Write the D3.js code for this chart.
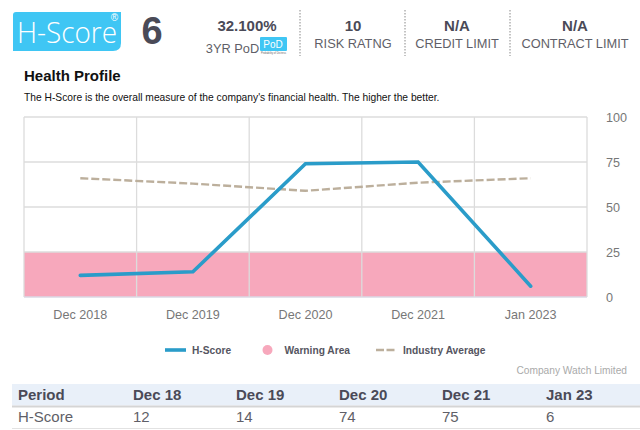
<!DOCTYPE html>
<html>
<head>
<meta charset="utf-8">
<script src="https://cdn.jsdelivr.net/npm/d3@7/dist/d3.min.js"></script>
<style>
html, body { margin: 0; padding: 0; background: #fff; }
text { font-family: "Liberation Sans", Arial, sans-serif; }
</style>
</head>
<body>
<div id="chart"></div>
<script>
// chart values
const periods = ["Dec 2018", "Dec 2019", "Dec 2020", "Dec 2021", "Jan 2023"];
const hScore = [12, 14, 74, 75, 6];
const industryAvg = [66, 63, 59, 63.5, 66];
const warningLimit = 25;
const yTicks = [0, 25, 50, 75, 100];

// table under the chart
const tablePeriods = ["Dec 18", "Dec 19", "Dec 20", "Dec 21", "Jan 23"];
const tableX = [133, 236, 339, 442, 546];

// header
const headerStats = [
	{value: "32.100%", label: "3YR PoD", x: 247},
	{value: "10", label: "RISK RATNG", x: 353},
	{value: "N/A", label: "CREDIT LIMIT", x: 457},
	{value: "N/A", label: "CONTRACT LIMIT", x: 575}
];
const dividers = [300, 405, 510];

const svg = d3.select("#chart").append("svg")
	.attr("width", 640)
	.attr("height", 430)
	.style("display", "block");

// logo
const logo = svg.append("g");
logo.append("path")
	.attr("d", "M13 15 Q13 12 16 12 H121 V43 Q121 51 113 51 H13 Z")
	.attr("fill", "#3fc6f4");
logo.append("text").attr("x", 17).attr("y", 43)
	.style("font-family", "'Open Sans', sans-serif").attr("font-weight", 300)
	.attr("font-size", 30).attr("fill", "#fff")
	.attr("textLength", 100).attr("lengthAdjust", "spacingAndGlyphs")
	.text("H-Score");
logo.append("text").attr("x", 114.5).attr("y", 21)
	.attr("text-anchor", "middle").attr("font-size", 10).attr("fill", "#fff")
	.text("®");

svg.append("text").attr("x", 152).attr("y", 44)
	.attr("text-anchor", "middle").attr("font-size", 38).attr("font-weight", "bold")
	.attr("fill", "#4a4a57").text("6");

headerStats.forEach(function(s, i){
	svg.append("text").attr("x", s.x).attr("y", 31)
		.attr("text-anchor", "middle").attr("font-size", 15).attr("font-weight", "bold")
		.attr("fill", "#4a4a57").text(s.value);
	svg.append("text").attr("x", i == 0 ? 232.5 : s.x).attr("y", i == 0 ? 53 : 47.5)
		.attr("text-anchor", "middle").attr("font-size", 12.8)
		.attr("fill", "#5f5f68").text(s.label);
});

// little PoD badge
svg.append("rect").attr("x", 260).attr("y", 37).attr("width", 27).attr("height", 14)
	.attr("rx", 1).attr("fill", "#3fc6f4");
svg.append("text").attr("x", 273).attr("y", 48)
	.attr("text-anchor", "middle").attr("font-size", 10).attr("fill", "#fff").text("PoD");
svg.append("text").attr("x", 273.5).attr("y", 53.5)
	.attr("text-anchor", "middle").attr("font-size", 2.6).attr("fill", "#666").text("Probability of Distress");

dividers.forEach(function(x){
	svg.append("line").attr("x1", x).attr("x2", x).attr("y1", 10).attr("y2", 56)
		.attr("stroke", "#888").attr("stroke-width", 1).attr("stroke-dasharray", "1.5,1.5");
});

svg.append("text").attr("x", 24).attr("y", 81)
	.attr("font-size", 15).attr("font-weight", "bold").attr("fill", "#111").text("Health Profile");
svg.append("text").attr("x", 24).attr("y", 101)
	.attr("font-size", 10.25).attr("fill", "#111")
	.text("The H-Score is the overall measure of the company's financial health. The higher the better.");

// plot
const x = d3.scaleBand().domain(periods).range([24, 587]);
const y = d3.scaleLinear().domain([0, 100]).range([297, 117]);
const cx = function(i){ return x(periods[i]) + x.bandwidth() / 2; };

svg.append("rect")
	.attr("x", 24).attr("width", 563)
	.attr("y", y(warningLimit)).attr("height", y(0) - y(warningLimit))
	.attr("fill", "#f7a8bc");

const gridColor = "#dcdcdc";
svg.append("g").selectAll("line").data(yTicks).join("line")
	.attr("x1", 24).attr("x2", 587)
	.attr("y1", d => y(d)).attr("y2", d => y(d))
	.attr("stroke", d => d == 0 ? "#dad8e4" : gridColor)
	.attr("stroke-width", 1.3);
svg.append("g").selectAll("line").data(periods.concat(["end"])).join("line")
	.attr("x1", (d, i) => i < periods.length ? x(d) : 587)
	.attr("x2", (d, i) => i < periods.length ? x(d) : 587)
	.attr("y1", 117).attr("y2", 297)
	.attr("stroke", gridColor)
	.attr("stroke-width", 1.3);

const lineGen = d3.line().x((d, i) => cx(i)).y(d => y(d));

svg.append("path").datum(industryAvg)
	.attr("d", lineGen).attr("fill", "none")
	.attr("stroke", "#bcaf9c").attr("stroke-width", 2.4)
	.attr("stroke-dasharray", "8,3");
svg.append("path").datum(hScore)
	.attr("d", lineGen).attr("fill", "none")
	.attr("stroke", "#2a9cc9").attr("stroke-width", 3.6)
	.attr("stroke-linecap", "round")
	.attr("stroke-linejoin", "miter");

// axes labels
svg.append("g").selectAll("text").data(periods).join("text")
	.attr("x", d => x(d) + x.bandwidth() / 2).attr("y", 319)
	.attr("text-anchor", "middle").attr("font-size", 12.6).attr("fill", "#777")
	.text(d => d);
svg.append("g").selectAll("text").data(yTicks).join("text")
	.attr("x", 606).attr("y", d => y(d) + 4.5)
	.attr("font-size", 12.6).attr("fill", "#777")
	.text(d => d);

// legend
const legendY = 350;
svg.append("line").attr("x1", 165).attr("x2", 186).attr("y1", legendY).attr("y2", legendY)
	.attr("stroke", "#2a9cc9").attr("stroke-width", 3.6);
svg.append("circle").attr("cx", 267.5).attr("cy", legendY).attr("r", 5)
	.attr("fill", "#f7a8bc");
svg.append("line").attr("x1", 376).attr("x2", 396).attr("y1", legendY).attr("y2", legendY)
	.attr("stroke", "#bcaf9c").attr("stroke-width", 2.4).attr("stroke-dasharray", "8,2.5");
[["H-Score", 192], ["Warning Area", 284.5], ["Industry Average", 403]].forEach(function(l){
	svg.append("text").attr("x", l[1]).attr("y", legendY + 4)
		.attr("font-size", 10.2).attr("font-weight", "bold").attr("fill", "#555561").text(l[0]);
});

svg.append("text").attr("x", 627).attr("y", 374)
	.attr("text-anchor", "end").attr("font-size", 10.2).attr("fill", "#aaa").text("Company Watch Limited");

// table
svg.append("rect").attr("x", 12).attr("y", 384).attr("width", 628).attr("height", 21.5)
	.attr("fill", "#e9f0f9");
svg.append("line").attr("x1", 12).attr("x2", 640).attr("y1", 406.5).attr("y2", 406.5)
	.attr("stroke", "#d5d5d5").attr("stroke-width", 2);
svg.append("line").attr("x1", 12).attr("x2", 640).attr("y1", 428.5).attr("y2", 428.5)
	.attr("stroke", "#e2e2e2").attr("stroke-width", 1);

svg.append("text").attr("x", 18).attr("y", 399.5)
	.attr("font-size", 15).attr("font-weight", "bold").attr("fill", "#4a4a57").text("Period");
svg.append("text").attr("x", 18).attr("y", 421.5)
	.attr("font-size", 15).attr("fill", "#5f5f68").text("H-Score");
tablePeriods.forEach(function(p, i){
	svg.append("text").attr("x", tableX[i]).attr("y", 399.5)
		.attr("font-size", 15).attr("font-weight", "bold").attr("fill", "#4a4a57").text(p);
	svg.append("text").attr("x", tableX[i]).attr("y", 421.5)
		.attr("font-size", 15).attr("fill", "#5f5f68").text(hScore[i]);
});
</script>
</body>
</html>
